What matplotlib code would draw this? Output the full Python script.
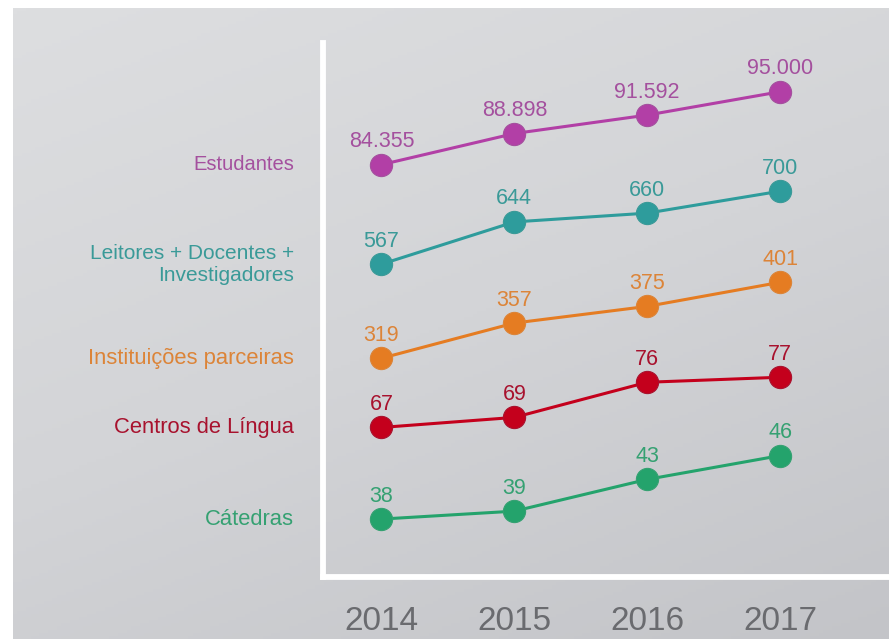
import numpy as np
import matplotlib
matplotlib.use("Agg")
import matplotlib.pyplot as plt
from matplotlib.colors import LinearSegmentedColormap

# ---- data ----
years = [2014, 2015, 2016, 2017]
series_names = ["Estudantes", "Leitores + Docentes +\nInvestigadores",
                "Instituições parceiras", "Centros de Língua", "Cátedras"]
estudantes = [84355, 88898, 91592, 95000]
leitores = [567, 644, 660, 700]
instituicoes = [319, 357, 375, 401]
centros = [67, 69, 76, 77]
catedras = [38, 39, 43, 46]
value_labels = [
    ["84.355", "88.898", "91.592", "95.000"],
    ["567", "644", "660", "700"],
    ["319", "357", "375", "401"],
    ["67", "69", "76", "77"],
    ["38", "39", "43", "46"],
]
series_values = [estudantes, leitores, instituicoes, centros, catedras]

# ---- style ----
line_colors = ["#B23FA6", "#2E9C9C", "#E57C22", "#C4001C", "#24A36C"]
text_colors = ["#A4509E", "#3A9A98", "#DC8438", "#A8122E", "#35A172"]
# each series lives in its own band (independent scale per series)
band_ylims = [(24139, 102118), (-3, 970), (82.7, 659.5), (37.2, 143.6), (30.7, 98.0)]
name_sizes = [14.5, 15, 15.8, 15.8, 15.8]

plt.rcParams["font.family"] = ["Liberation Sans", "DejaVu Sans"]

W, H = 889, 639
fig = plt.figure(figsize=(W / 100, H / 100), dpi=100)
fig.patch.set_facecolor("white")

# background gradient
bg = fig.add_axes([13 / W, 0, 1 - 13 / W, 1 - 8 / H])
bg.set_axis_off()
yy, xx = np.mgrid[0:1:200j, 0:1:200j]
grad = 0.65 * yy + 0.35 * xx
cmap = LinearSegmentedColormap.from_list("bgc", ["#DDDEE0", "#D3D4D7", "#C3C4C8"])
bg.imshow(grad, cmap=cmap, aspect="auto", origin="upper", extent=[0, 1, 0, 1])

ax_rect = [323 / W, 62 / H, (W - 323) / W, (639 - 43 - 62) / H]
xlim = (2013.56, 2017.82)

main = fig.add_axes(ax_rect)
main.patch.set_alpha(0)
main.set_xlim(*xlim)
main.set_ylim(0, 1)
for s in ["top", "right"]:
    main.spines[s].set_visible(False)
for s in ["left", "bottom"]:
    main.spines[s].set_color("white")
    main.spines[s].set_linewidth(4.2)
main.set_yticks([])
main.set_xticks(years)
main.set_xticklabels([str(y) for y in years], fontsize=24, color="#6A6B6F")
main.tick_params(axis="x", length=0, pad=21)

for i, vals in enumerate(series_values):
    ax = fig.add_axes(ax_rect, sharex=main)
    ax.patch.set_alpha(0)
    ax.set_axis_off()
    ax.set_ylim(*band_ylims[i])
    ax.plot(years, vals, color=line_colors[i], lw=2.2, marker="o", markersize=16,
            markerfacecolor=line_colors[i], markeredgecolor=text_colors[i],
            markeredgewidth=0.8, solid_capstyle="round", zorder=3)
    for x, v, lab in zip(years, vals, value_labels[i]):
        ax.annotate(lab, xy=(x, v), xytext=(0, 16.5), textcoords="offset points",
                    ha="center", va="center", fontsize=15.5, color=text_colors[i])
    ax.annotate(series_names[i], xy=(years[0], vals[0]), xytext=(-63, 0),
                textcoords="offset points", ha="right", va="center",
                fontsize=name_sizes[i], color=text_colors[i], linespacing=1.2,
                annotation_clip=False, multialignment="right")

fig.savefig("out.png", dpi=100)
